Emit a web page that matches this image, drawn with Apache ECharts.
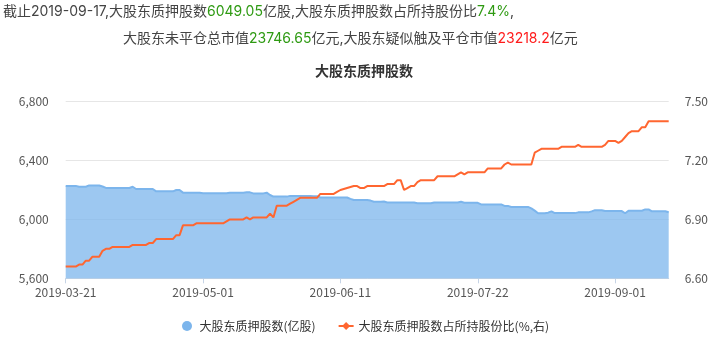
<!DOCTYPE html>
<html>
<head>
<meta charset="utf-8">
<script src="https://cdn.jsdelivr.net/npm/echarts@6/dist/echarts.min.js"></script>
<style>
html,body{margin:0;padding:0;background:#fff;}
#main{width:719px;height:353px;}
</style>
</head>
<body>
<div id="main"></div>
<script>
// ---- data ----
var startDate = '2019-03-21';
var dayCount = 181;
var pledgeShares = [
6228,6228,6228,6228,6222,6222,6222,6231,6231,6231,
6231,6224,6214,6214,6214,6214,6214,6214,6214,6214,
6222,6207,6207,6207,6207,6207,6207,6191,6191,6191,
6191,6191,6191,6200,6200,6182,6182,6182,6182,6182,
6182,6178,6178,6178,6178,6178,6178,6178,6178,6182,
6182,6182,6182,6182,6184,6184,6177,6177,6177,6177,
6182,6166,6155,6155,6155,6155,6155,6160,6160,6160,
6160,6160,6160,6160,6158,6158,6149,6149,6149,6149,
6149,6149,6149,6149,6149,6140,6132,6132,6132,6132,
6132,6128,6120,6120,6120,6122,6115,6115,6115,6115,
6115,6115,6115,6115,6115,6110,6110,6110,6110,6110,
6115,6115,6115,6115,6115,6115,6115,6115,6120,6113,
6113,6113,6113,6113,6102,6102,6102,6102,6102,6102,
6102,6092,6092,6085,6085,6085,6085,6085,6085,6075,
6060,6042,6042,6042,6046,6055,6043,6043,6043,6043,
6043,6043,6043,6048,6048,6048,6048,6055,6063,6063,
6063,6057,6057,6057,6057,6057,6057,6042,6059,6059,
6059,6059,6059,6068,6068,6055,6055,6055,6055,6055,
6049.05
];
var pledgeRatio = [
6.66,6.66,6.66,6.66,6.67,6.67,6.69,6.69,6.71,6.71,
6.71,6.74,6.75,6.75,6.76,6.76,6.76,6.76,6.76,6.76,
6.77,6.77,6.77,6.77,6.77,6.78,6.78,6.80,6.80,6.80,
6.80,6.80,6.80,6.82,6.82,6.87,6.87,6.87,6.87,6.88,
6.88,6.88,6.88,6.88,6.88,6.88,6.88,6.88,6.89,6.90,
6.90,6.90,6.90,6.90,6.91,6.90,6.91,6.91,6.91,6.91,
6.91,6.93,6.91,6.97,6.97,6.97,6.97,6.98,6.99,7.00,
7.01,7.01,7.01,7.01,7.01,7.01,7.03,7.03,7.03,7.03,
7.03,7.04,7.05,7.055,7.06,7.065,7.07,7.07,7.06,7.06,
7.07,7.07,7.07,7.07,7.07,7.07,7.08,7.08,7.08,7.10,
7.10,7.05,7.06,7.07,7.07,7.09,7.10,7.10,7.10,7.10,
7.10,7.12,7.12,7.12,7.12,7.12,7.12,7.13,7.14,7.13,
7.14,7.14,7.14,7.14,7.14,7.14,7.16,7.16,7.16,7.16,
7.16,7.18,7.19,7.18,7.18,7.18,7.18,7.18,7.18,7.18,
7.24,7.25,7.26,7.26,7.26,7.26,7.26,7.26,7.27,7.27,
7.27,7.27,7.27,7.28,7.27,7.27,7.27,7.27,7.27,7.27,
7.27,7.28,7.30,7.30,7.30,7.29,7.30,7.32,7.34,7.35,
7.35,7.35,7.37,7.37,7.40,7.40,7.40,7.40,7.40,7.40,
7.40
];
var leftTicks = [5600, 6000, 6400, 6800];
var rightTicks = [6.60, 6.90, 7.20, 7.50];
var seriesNames = ['大股东质押股数(亿股)', '大股东质押股数占所持股份比(%,右)'];
var chartTitle = '大股东质押股数';
var headerDate = '2019-09-17';
var headerShares = '6049.05';
var headerRatio = '7.4%';
var headerOpenValue = '23746.65';
var headerRiskValue = '23218.2';

// categories: consecutive calendar days
var categories = [];
(function(){
  var d = new Date(startDate + 'T00:00:00Z');
  for (var i = 0; i < dayCount; i++) {
    var t = new Date(d.getTime() + i * 86400000);
    var m = ('0' + (t.getUTCMonth() + 1)).slice(-2);
    var dd = ('0' + t.getUTCDate()).slice(-2);
    categories.push(t.getUTCFullYear() + '-' + m + '-' + dd);
  }
})();

var FONT = "'Microsoft YaHei','Noto Sans CJK SC',sans-serif";
var HFONT = "Inter,'Noto Sans CJK SC',sans-serif";
var chart = echarts.init(document.getElementById('main'), null, {renderer: 'canvas'});
var option = {
  animation: false,
  backgroundColor: '#fff',
  textStyle: {fontFamily: FONT},
  title: [
    {
      left: 3, top: 5, padding: 0,
      text: '截止' + headerDate + ',大股东质押股数{g|' + headerShares + '}亿股,大股东质押股数占所持股份比{g|' + headerRatio + '},',
      textStyle: {fontSize: 14, fontWeight: 'normal', color: '#444', fontFamily: HFONT,
        rich: {g: {fontSize: 14, color: '#2e9a12', fontFamily: HFONT}}}
    },
    {
      left: 123, top: 32, padding: 0,
      text: '大股东未平仓总市值{g|' + headerOpenValue + '}亿元,大股东疑似触及平仓市值{r|' + headerRiskValue + '}亿元',
      textStyle: {fontSize: 14, fontWeight: 'normal', color: '#444', fontFamily: HFONT,
        rich: {g: {fontSize: 14, color: '#2e9a12', fontFamily: HFONT}, r: {fontSize: 14, color: '#ff1a1a', fontFamily: HFONT}}}
    },
    {
      left: 315, top: 64, padding: 0,
      text: chartTitle,
      textStyle: {fontSize: 14, fontWeight: 'bold', color: '#333', fontFamily: FONT}
    }
  ],
  legend: {
    bottom: 16,
    left: 177,
    itemGap: 22,
    itemWidth: 15,
    itemHeight: 10,
    textStyle: {fontSize: 12, color: '#333', fontFamily: FONT},
    data: [
      {name: seriesNames[0], icon: 'circle'},
      {name: seriesNames[1]}
    ]
  },
  grid: {left: 65.7, right: 50.3, top: 101.7, bottom: 74.7, containLabel: false},
  xAxis: {
    type: 'category',
    data: categories,
    boundaryGap: false,
    axisLine: {lineStyle: {color: '#c6d4e6'}},
    axisTick: {interval: 40, length: 5, lineStyle: {color: '#c6d4e6'}},
    axisLabel: {interval: 40, color: '#555', fontSize: 12, margin: 8, fontFamily: FONT},
    splitLine: {show: false}
  },
  yAxis: [
    {
      type: 'value', min: leftTicks[0], max: leftTicks[leftTicks.length - 1], interval: leftTicks[1] - leftTicks[0],
      axisLine: {show: false}, axisTick: {show: false},
      axisLabel: {color: '#555', fontSize: 12, margin: 17, fontFamily: FONT,
        formatter: function (v) { return String(Math.round(v)).replace(/\B(?=(\d{3})+(?!\d))/g, ','); }},
      splitLine: {lineStyle: {color: '#e6e6e6'}}
    },
    {
      type: 'value', min: rightTicks[0], max: rightTicks[rightTicks.length - 1], interval: 0.3,
      axisLine: {show: false}, axisTick: {show: false},
      axisLabel: {color: '#555', fontSize: 12, margin: 16, fontFamily: FONT,
        formatter: function (v) { return v.toFixed(2); }},
      splitLine: {show: false}
    }
  ],
  series: [
    {
      name: seriesNames[0],
      type: 'line',
      yAxisIndex: 0,
      data: pledgeShares,
      showSymbol: false,
      symbol: 'circle',
      lineStyle: {color: '#7cb5ec', width: 2},
      itemStyle: {color: '#7cb5ec'},
      areaStyle: {color: '#7cb5ec', opacity: 0.75, origin: 'start'},
      z: 1
    },
    {
      name: seriesNames[1],
      type: 'line',
      yAxisIndex: 1,
      data: pledgeRatio,
      showSymbol: false,
      symbol: 'diamond',
      symbolSize: 7,
      lineStyle: {color: '#ff6630', width: 2},
      itemStyle: {color: '#ff6630'},
      z: 3
    }
  ]
};
chart.setOption(option);
</script>
</body>
</html>
